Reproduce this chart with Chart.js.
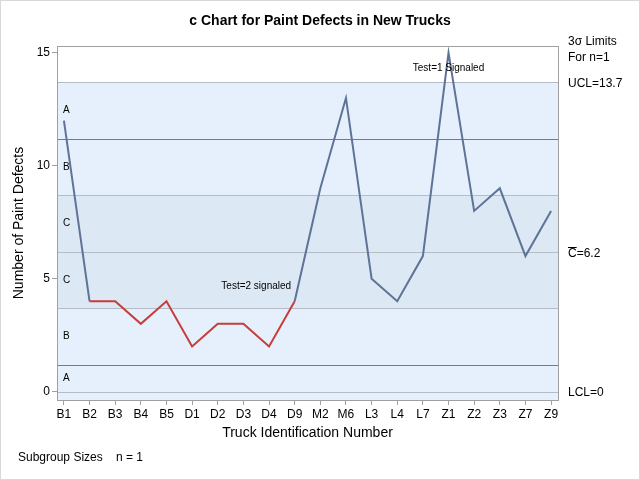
<!DOCTYPE html>
<html>
<head>
<meta charset="utf-8">
<script src="https://cdn.jsdelivr.net/npm/chart.js@4/dist/chart.umd.min.js"></script>
<style>
  html, body { margin: 0; padding: 0; background: #fff; }
  #wrap { width: 640px; height: 480px; position: relative; }
</style>
</head>
<body>
<div id="wrap"><canvas id="cChart" width="640" height="480"></canvas></div>
<script>
// truck ids and defect counts
var trucks = ['B1','B2','B3','B4','B5','D1','D2','D3','D4','D9','M2','M6','L3','L4','L7','Z1','Z2','Z3','Z7','Z9'];
var defects = [12, 4, 4, 3, 4, 2, 3, 3, 2, 4, 9, 13, 5, 4, 6, 15, 8, 9, 6, 8];

// control limits and zone boundaries
var ucl = 13.7;
var cbar = 6.2;
var lcl = 0;
var zoneLines = [11.2, 8.7, 3.7, 1.2];
var zoneLabels = ['A', 'B', 'C', 'C', 'B', 'A'];
var zoneLabelValues = [12.45, 9.95, 7.45, 4.95, 2.45, 0.6];
var yTicks = [0, 5, 10, 15];

// test signals: segment from index 1 to 9 is red
var test2Start = 1;
var test2End = 9;

var FONT = 'Arial, "Liberation Sans", sans-serif';
var lineBlue = '#5f7396';
var lineRed = '#c63d3a';

var points = [];
for (var i = 0; i < defects.length; i++) {
    points.push({ x: i, y: defects[i] });
}

var decorPlugin = {
    id: 'decor',
    beforeDatasetsDraw: function(chart){
        var ctx = chart.ctx;
        var a = chart.chartArea;
        var y = chart.scales.y;
        var py = function(v){ return y.getPixelForValue(v); };
        ctx.save();
        // light band from UCL down to bottom
        ctx.fillStyle = '#e6f0fc';
        ctx.fillRect(a.left, py(ucl), a.right - a.left, a.bottom - py(ucl));
        // zone C darker
        ctx.fillStyle = '#dde8f5';
        ctx.fillRect(a.left, py(zoneLines[1]), a.right - a.left, py(zoneLines[2]) - py(zoneLines[1]));
        // lighter lines
        ctx.lineWidth = 1;
        ctx.strokeStyle = '#b4bcc8';
        [ucl, zoneLines[1], cbar, zoneLines[2], lcl].forEach(function(v){
            var yy = Math.round(py(v)) + 0.5;
            ctx.beginPath(); ctx.moveTo(a.left, yy); ctx.lineTo(a.right, yy); ctx.stroke();
        });
        // darker sigma lines
        ctx.strokeStyle = '#7a7a7a';
        [zoneLines[0], zoneLines[3]].forEach(function(v){
            var yy = Math.round(py(v)) + 0.5;
            ctx.beginPath(); ctx.moveTo(a.left, yy); ctx.lineTo(a.right, yy); ctx.stroke();
        });
        // zone letters
        ctx.fillStyle = '#000';
        ctx.font = '10px ' + FONT;
        ctx.textAlign = 'left';
        ctx.textBaseline = 'middle';
        for (var k = 0; k < zoneLabels.length; k++) {
            ctx.fillText(zoneLabels[k], a.left + 6, py(zoneLabelValues[k]));
        }
        ctx.restore();
    },
    afterDraw: function(chart){
        var ctx = chart.ctx;
        var a = chart.chartArea;
        var x = chart.scales.x;
        var y = chart.scales.y;
        ctx.save();
        // plot frame
        ctx.strokeStyle = '#a0a0a0';
        ctx.lineWidth = 1;
        ctx.strokeRect(Math.round(a.left) + 0.5, Math.round(a.top) + 0.5, Math.round(a.right - a.left), Math.round(a.bottom - a.top));
        // outer frame
        ctx.strokeStyle = '#d8d8d8';
        ctx.strokeRect(0.5, 0.5, 639, 479);

        ctx.fillStyle = '#000';
        // title
        ctx.font = 'bold 14px ' + FONT;
        ctx.textAlign = 'center';
        ctx.textBaseline = 'middle';
        ctx.fillText('c Chart for Paint Defects in New Trucks', 320, 21);

        // axis titles
        ctx.font = '14px ' + FONT;
        ctx.fillText('Truck Identification Number', (a.left + a.right) / 2, 433);
        ctx.save();
        ctx.translate(19, (a.top + a.bottom) / 2);
        ctx.rotate(-Math.PI / 2);
        ctx.fillText('Number of Paint Defects', 0, 0);
        ctx.restore();

        // signal labels
        ctx.font = '10px ' + FONT;
        ctx.fillText('Test=1 Signaled', x.getPixelForValue(15), y.getPixelForValue(14.3));
        ctx.fillText('Test=2 signaled', (x.getPixelForValue(7) + x.getPixelForValue(8)) / 2, y.getPixelForValue(4.65));

        // limit labels on the right
        ctx.font = '12px ' + FONT;
        ctx.textAlign = 'left';
        var lx = a.right + 10;
        ctx.fillText('3\u03c3 Limits', lx, 42);
        ctx.fillText('For n=1', lx, 58);
        ctx.fillText('UCL=' + ucl, lx, y.getPixelForValue(ucl) + 2);
        var cy = y.getPixelForValue(cbar) + 2;
        ctx.fillText('C=' + cbar, lx, cy);
        // bar over C
        var cw = ctx.measureText('C').width;
        ctx.beginPath();
        ctx.strokeStyle = '#000';
        ctx.moveTo(lx, Math.round(cy - 7) + 0.5);
        ctx.lineTo(lx + cw, Math.round(cy - 7) + 0.5);
        ctx.stroke();
        ctx.fillText('LCL=' + lcl, lx, y.getPixelForValue(lcl) + 1);

        // subgroup sizes
        ctx.fillText('Subgroup Sizes', 18, 458);
        ctx.fillText('n = 1', 116, 458);
        ctx.restore();
    }
};

var ctx = document.getElementById('cChart').getContext('2d');
var cChart = new Chart(ctx, {
    type: 'line',
    data: {
        datasets: [{
            label: 'Defects',
            data: points,
            borderColor: lineBlue,
            borderWidth: 2,
            pointRadius: 0,
            tension: 0,
            segment: {
                borderColor: function(c){
                    if (c.p0DataIndex >= test2Start && c.p1DataIndex <= test2End) {
                        return lineRed;
                    }
                    return lineBlue;
                }
            }
        }]
    },
    options: {
        responsive: false,
        animation: false,
        layout: {
            padding: { left: 0, right: 82, top: 46, bottom: 50 }
        },
        plugins: {
            legend: { display: false },
            tooltip: { enabled: false },
            title: { display: false }
        },
        scales: {
            x: {
                type: 'linear',
                min: -0.27,
                max: 19.27,
                afterFit: function(s){ s.height = 30; },
                afterBuildTicks: function(s){
                    s.ticks = trucks.map(function(t, i){ return { value: i }; });
                },
                grid: { drawOnChartArea: false, drawTicks: true, tickLength: 5, color: '#a0a0a0' },
                border: { display: true, color: '#a0a0a0' },
                ticks: {
                    autoSkip: false,
                    maxRotation: 0,
                    padding: 2,
                    color: '#000',
                    font: { family: FONT, size: 12 },
                    callback: function(v){ return trucks[v]; }
                }
            },
            y: {
                type: 'linear',
                min: -0.37,
                max: 15.3,
                afterFit: function(s){ s.width = 57; },
                afterBuildTicks: function(s){
                    s.ticks = yTicks.map(function(v){ return { value: v }; });
                },
                grid: { drawOnChartArea: false, drawTicks: true, tickLength: 5, color: '#a0a0a0' },
                border: { display: true, color: '#a0a0a0' },
                ticks: {
                    padding: 2,
                    color: '#000',
                    font: { family: FONT, size: 12 }
                }
            }
        }
    },
    plugins: [decorPlugin]
});
</script>
</body>
</html>
